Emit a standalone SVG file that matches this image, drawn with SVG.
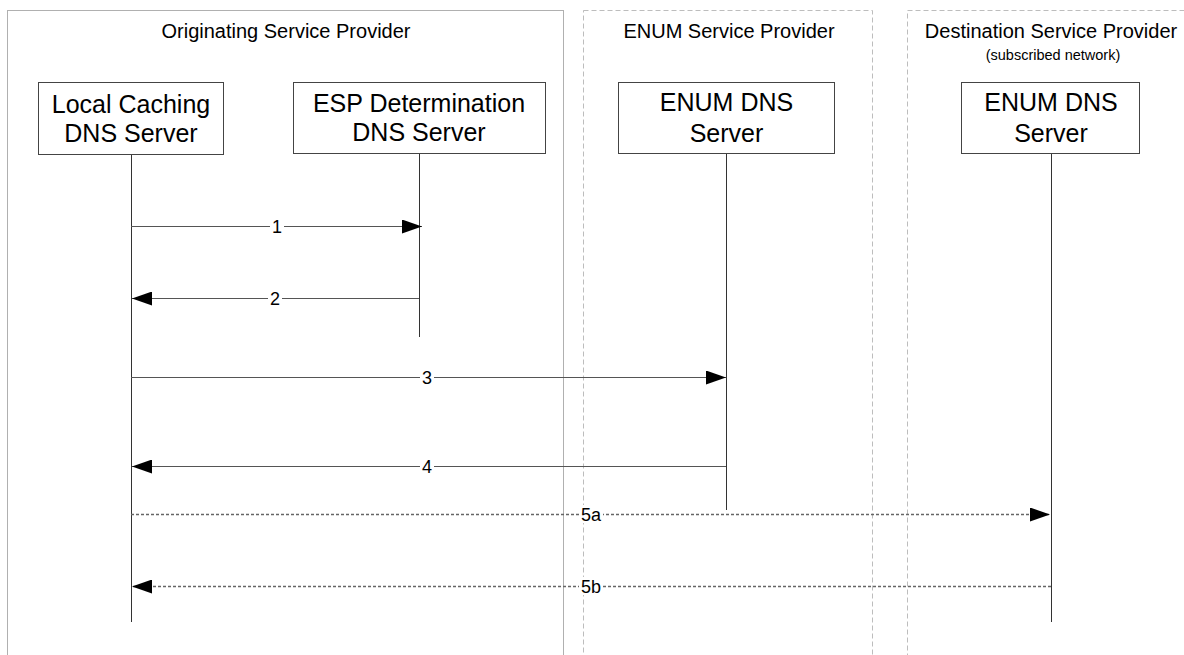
<svg xmlns="http://www.w3.org/2000/svg" width="1184" height="655" viewBox="0 0 1184 655">
<style>
.bg{fill:#fff}
.grp{fill:none;stroke:#b0b0b0;stroke-width:1}
.grpd{fill:none;stroke:#bdbdbd;stroke-width:1;stroke-dasharray:5,3}
.gt{font-family:"Liberation Sans",Arial,sans-serif;font-size:20px;fill:#000;text-anchor:middle}
.gs{font-family:"Liberation Sans",Arial,sans-serif;font-size:14.5px;fill:#000;text-anchor:middle}
.box{fill:#fff;stroke:#444;stroke-width:1}
.nt{font-family:"Liberation Sans",Arial,sans-serif;font-size:25px;fill:#000;text-anchor:middle}
.life{stroke:#333;stroke-width:1;fill:none}
.msg{stroke:#555;stroke-width:1.2;fill:none}
.msgd{stroke:#666;stroke-width:1.5;fill:none;stroke-dasharray:3,2}
.lbg{fill:#fff}
.lt{font-family:"Liberation Sans",Arial,sans-serif;font-size:18px;fill:#000;text-anchor:middle}
</style>
<defs>
<marker id="ah" markerUnits="userSpaceOnUse" markerWidth="20" markerHeight="14" refX="20" refY="7" orient="auto">
<path d="M0,0 L20,7 L0,14 Z" fill="#000"/>
</marker>
</defs>
<rect class="bg" x="0" y="0" width="1184" height="655"/>

<g id="group-originating">
<rect class="grp" x="7.5" y="10.5" width="556" height="700"/>
<text class="gt" x="286" y="38">Originating Service Provider</text>
</g>
<g id="group-enum">
<rect class="grpd" x="583.5" y="10.5" width="289" height="700"/>
<text class="gt" x="729" y="38">ENUM Service Provider</text>
</g>
<g id="group-destination">
<rect class="grpd" x="907.5" y="10.5" width="300" height="700"/>
<text class="gt" x="1051" y="38">Destination Service Provider</text>
<text class="gs" x="1053" y="60">(subscribed network)</text>
</g>

<g id="node-local">
<rect class="box" x="38.5" y="82.5" width="185" height="72"/>
<text class="nt" x="131" y="113">Local Caching</text>
<text class="nt" x="131" y="142">DNS Server</text>
<line class="life" x1="131.5" y1="155" x2="131.5" y2="622"/>
</g>
<g id="node-esp">
<rect class="box" x="293.5" y="82.5" width="252" height="71"/>
<text class="nt" x="419" y="112">ESP Determination</text>
<text class="nt" x="419" y="141">DNS Server</text>
<line class="life" x1="419.5" y1="154" x2="419.5" y2="337"/>
</g>
<g id="node-enum">
<rect class="box" x="618.5" y="82.5" width="216" height="71"/>
<text class="nt" x="726.5" y="111">ENUM DNS</text>
<text class="nt" x="726.5" y="142">Server</text>
<line class="life" x1="726.5" y1="154" x2="726.5" y2="510"/>
</g>
<g id="node-dest">
<rect class="box" x="961.5" y="82.5" width="178" height="71"/>
<text class="nt" x="1051" y="111">ENUM DNS</text>
<text class="nt" x="1051" y="142">Server</text>
<line class="life" x1="1051.5" y1="154" x2="1051.5" y2="622"/>
</g>

<g id="connectors">
<line class="msg" x1="131" y1="226.5" x2="422" y2="226.5" marker-end="url(#ah)"/>
<rect class="lbg" x="270" y="217" width="14" height="18"/>
<text class="lt" x="277" y="232.5">1</text>

<line class="msg" x1="419" y1="298.5" x2="132" y2="298.5" marker-end="url(#ah)"/>
<rect class="lbg" x="268" y="289" width="14" height="18"/>
<text class="lt" x="275" y="304.5">2</text>

<line class="msg" x1="131" y1="377.5" x2="726" y2="377.5" marker-end="url(#ah)"/>
<rect class="lbg" x="420" y="368" width="14" height="18"/>
<text class="lt" x="427" y="383.5">3</text>

<line class="msg" x1="726" y1="466.5" x2="132" y2="466.5" marker-end="url(#ah)"/>
<rect class="lbg" x="420" y="457" width="14" height="18"/>
<text class="lt" x="427" y="472.5">4</text>

<line class="msgd" x1="131" y1="514.5" x2="1050" y2="514.5" marker-end="url(#ah)"/>
<rect class="lbg" x="579" y="505" width="24" height="18"/>
<text class="lt" x="591" y="520.5">5a</text>

<line class="msgd" x1="1051" y1="586.5" x2="132" y2="586.5" marker-end="url(#ah)"/>
<rect class="lbg" x="579" y="577" width="24" height="18"/>
<text class="lt" x="591" y="592.5">5b</text>
</g>
</svg>
